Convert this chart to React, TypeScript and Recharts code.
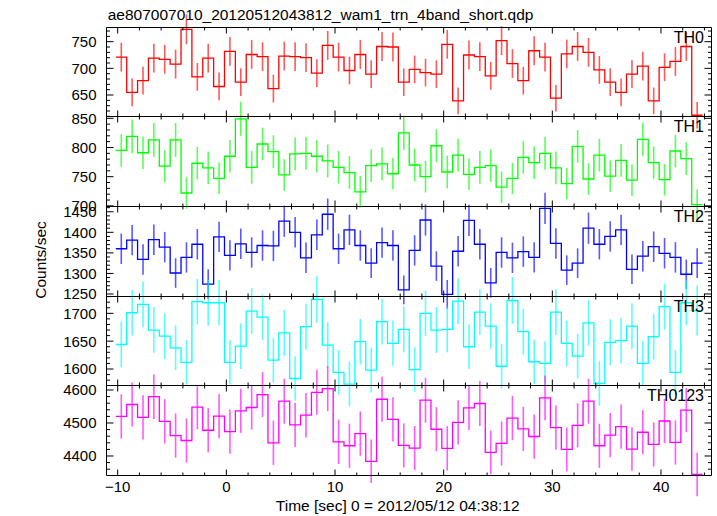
import React from 'react';
import { ComposedChart, Line, Scatter, ErrorBar, XAxis, YAxis } from 'recharts';

// ---- data ----
const TIME = [
  -9.67, -8.67, -7.67, -6.67, -5.67, -4.67, -3.67, -2.67, -1.67, -0.67,
  0.33, 1.33, 2.33, 3.33, 4.33, 5.33, 6.33, 7.33, 8.33, 9.33,
  10.33, 11.33, 12.33, 13.33, 14.33, 15.33, 16.33, 17.33, 18.33, 19.33,
  20.33, 21.33, 22.33, 23.33, 24.33, 25.33, 26.33, 27.33, 28.33, 29.33,
  30.33, 31.33, 32.33, 33.33, 34.33, 35.33, 36.33, 37.33, 38.33, 39.33,
  40.33, 41.33, 42.33, 43.33,
];
const BIN_HALF = 0.5;

const TH0 = [
  721, 655, 677, 719, 717, 708, 773, 684, 719, 666,
  732, 674, 726, 722, 662, 723, 722, 720, 691, 743,
  721, 696, 726, 689, 741, 740, 674, 698, 692, 689,
  745, 639, 725, 722, 686, 752, 709, 677, 733, 721,
  644, 727, 741, 730, 697, 674, 655, 689, 704, 639,
  702, 713, 741, 612,
];
const TH0_ERR = [
  27, 26, 26, 27, 27, 27, 28, 26, 27, 26,
  27, 26, 27, 27, 26, 27, 27, 27, 26, 27,
  27, 26, 27, 26, 27, 27, 26, 26, 26, 26,
  27, 25, 27, 27, 26, 27, 27, 26, 27, 27,
  25, 27, 27, 27, 26, 26, 26, 26, 27, 25,
  26, 27, 27, 25,
];
const TH1 = [
  795, 819, 791, 813, 768, 813, 722, 773, 765, 747,
  785, 849, 766, 806, 793, 753, 789, 790, 785, 777,
  766, 757, 724, 769, 772, 755, 825, 770, 750, 803,
  758, 787, 754, 766, 769, 732, 747, 783, 774, 790,
  765, 738, 802, 746, 787, 751, 778, 744, 814, 774,
  745, 794, 781, 702,
];
const TH1_ERR = [
  28, 29, 28, 29, 28, 29, 27, 28, 28, 27,
  28, 29, 28, 28, 28, 27, 28, 28, 28, 28,
  28, 28, 27, 28, 28, 27, 29, 28, 27, 28,
  28, 28, 27, 28, 28, 27, 27, 28, 28, 28,
  28, 27, 28, 27, 28, 27, 28, 27, 29, 28,
  27, 28, 28, 26,
];
const TH2 = [
  1360, 1381, 1334, 1382, 1364, 1301, 1339, 1371, 1274, 1389,
  1344, 1372, 1351, 1368, 1367, 1427, 1400, 1338, 1394, 1444,
  1360, 1406, 1368, 1325, 1375, 1368, 1260, 1356, 1430, 1318,
  1249, 1354, 1429, 1371, 1277, 1351, 1338, 1353, 1339, 1458,
  1373, 1308, 1325, 1410, 1371, 1390, 1406, 1310, 1342, 1365,
  1349, 1339, 1298, 1325,
];
const TH2_ERR = [
  37, 37, 37, 37, 37, 36, 37, 37, 36, 37,
  37, 37, 37, 37, 37, 38, 37, 37, 37, 38,
  37, 37, 37, 36, 37, 37, 35, 37, 38, 36,
  35, 37, 38, 37, 36, 37, 37, 37, 37, 38,
  37, 36, 36, 38, 37, 37, 37, 36, 37, 37,
  37, 37, 36, 36,
];
const TH3 = [
  1644, 1701, 1716, 1670, 1659, 1638, 1612, 1721, 1719, 1719,
  1612, 1641, 1704, 1693, 1616, 1665, 1583, 1676, 1725, 1643,
  1594, 1573, 1649, 1598, 1685, 1646, 1671, 1599, 1700, 1670,
  1671, 1722, 1640, 1702, 1677, 1605, 1723, 1667, 1613, 1610,
  1702, 1646, 1623, 1683, 1574, 1648, 1651, 1677, 1610, 1658,
  1712, 1594, 1719, 1705,
];
const TH3_ERR = [
  41, 41, 41, 41, 41, 40, 40, 41, 41, 41,
  40, 41, 41, 41, 40, 41, 40, 41, 42, 41,
  40, 40, 41, 40, 41, 41, 41, 40, 41, 41,
  41, 41, 40, 41, 41, 40, 42, 41, 40, 40,
  41, 41, 40, 41, 40, 41, 41, 41, 40, 41,
  41, 40, 41, 45,
];
const TH0123 = [
  4520, 4556, 4517, 4580, 4505, 4462, 4447, 4548, 4478, 4521,
  4474, 4537, 4547, 4586, 4440, 4566, 4494, 4524, 4593, 4604,
  4443, 4431, 4468, 4384, 4572, 4511, 4432, 4424, 4569, 4481,
  4423, 4502, 4546, 4559, 4411, 4438, 4515, 4482, 4459, 4576,
  4486, 4420, 4493, 4566, 4431, 4463, 4489, 4421, 4472, 4435,
  4506, 4441, 4539, 4344,
];
const TH0123_ERR = [
  67, 67, 67, 68, 67, 67, 67, 67, 67, 67,
  67, 67, 67, 68, 67, 68, 67, 67, 68, 68,
  67, 67, 67, 66, 68, 67, 67, 67, 68, 67,
  67, 67, 67, 68, 66, 67, 67, 67, 67, 68,
  67, 66, 67, 68, 67, 67, 67, 66, 67, 67,
  67, 67, 67, 66,
];

const X_MAJOR = [-10, 0, 10, 20, 30, 40];
const TH0_MAJOR = [650, 700, 750];
const TH1_MAJOR = [700, 750, 800, 850];
const TH2_MAJOR = [1250, 1300, 1350, 1400, 1450];
const TH3_MAJOR = [1600, 1650, 1700];
const TH0123_MAJOR = [4400, 4500, 4600];

const TITLE = 'ae807007010_20120512043812_wam1_trn_4band_short.qdp';
const X_LABEL = 'Time [sec] 0 = 2012/05/12 04:38:12';
const Y_LABEL = 'Counts/sec';

// ---- layout ----
const W = 717;
const H = 516;
const PLOT_LEFT = 106.5;
const PLOT_RIGHT = 711.5;
const EDGES = [27.5, 116.5, 206.5, 296.5, 385.5, 475.5];
const X_DOMAIN: [number, number] = [-11.03, 44.65];
const FONT = '"Liberation Sans", Arial, Helvetica, sans-serif';

const range = (a: number, b: number, s: number) => {
  const out: number[] = [];
  for (let v = a; v <= b + 1e-9; v += s) out.push(Math.round(v * 1000) / 1000);
  return out;
};
const X_TICKS = range(-10, 44, 2);

const fmt = (v: number) => (v < 0 ? '\u2212' + Math.abs(v) : String(v));

type PanelCfg = {
  name: string;
  values: number[];
  errs: number[];
  color: string;
  domain: [number, number];
  majors: number[];
  ticks: number[];
};

const PANELS: PanelCfg[] = [
  { name: 'TH0', values: TH0, errs: TH0_ERR, color: '#ff0000', domain: [609.7, 776.6], majors: TH0_MAJOR, ticks: range(610, 770, 10) },
  { name: 'TH1', values: TH1, errs: TH1_ERR, color: '#00ff00', domain: [698.9, 853.1], majors: TH1_MAJOR, ticks: range(700, 850, 10) },
  { name: 'TH2', values: TH2, errs: TH2_ERR, color: '#0000ff', domain: [1243.9, 1462.8], majors: TH2_MAJOR, ticks: range(1250, 1460, 10) },
  { name: 'TH3', values: TH3, errs: TH3_ERR, color: '#00ffff', domain: [1570.4, 1730.2], majors: TH3_MAJOR, ticks: range(1580, 1730, 10) },
  { name: 'TH0123', values: TH0123, errs: TH0123_ERR, color: '#ff00ff', domain: [4340.9, 4613.6], majors: TH0123_MAJOR, ticks: range(4360, 4600, 20) },
];

const makeXTick = (side: 'top' | 'bottom', showLabel: boolean) => (props: any) => {
  const { x, y, payload } = props;
  const v = payload.value;
  const major = X_MAJOR.includes(v);
  const len = major ? 6 : 3;
  const dir = side === 'bottom' ? -1 : 1;
  return (
    <g>
      <line x1={x} x2={x} y1={y} y2={y + dir * len} stroke="#000" strokeWidth={1} />
      {showLabel && major ? (
        <text x={x} y={y + 16.5} textAnchor="middle" fontSize={15} fontFamily={FONT} fill="#000">
          {fmt(v)}
        </text>
      ) : null}
    </g>
  );
};

const makeYTick = (side: 'left' | 'right', majors: number[]) => (props: any) => {
  const { x, y, payload } = props;
  const v = payload.value;
  const major = majors.includes(v);
  const len = major ? 7 : 3.5;
  const dir = side === 'left' ? 1 : -1;
  return (
    <g>
      <line x1={x} x2={x + dir * len} y1={y} y2={y} stroke="#000" strokeWidth={1} />
      {side === 'left' && major ? (
        <text x={x - 10} y={y + 5.4} textAnchor="end" fontSize={15} fontFamily={FONT} fill="#000">
          {fmt(v)}
        </text>
      ) : null}
    </g>
  );
};

const EmptyShape = () => <g />;

function Panel({ p, index }: { p: PanelCfg; index: number }) {
  const last = index === PANELS.length - 1;
  const n = TIME.length;
  const lineData = [
    { t: TIME[0] - BIN_HALF, v: p.values[0] },
    ...TIME.map((t, i) => ({ t, v: p.values[i] })),
    { t: TIME[n - 1] + BIN_HALF, v: p.values[n - 1] },
  ];
  const pts = TIME.map((t, i) => ({ t, v: p.values[i], e: p.errs[i] }));
  const top = EDGES[index];
  const bottom = EDGES[index + 1];
  return (
    <div style={{ position: 'absolute', left: 0, top: 0 }}>
      <ComposedChart
        width={W}
        height={H}
        margin={{ top, bottom: H - bottom, left: PLOT_LEFT, right: W - PLOT_RIGHT }}
      >
        <XAxis
          xAxisId="b"
          orientation="bottom"
          type="number"
          dataKey="t"
          domain={X_DOMAIN}
          allowDataOverflow
          ticks={X_TICKS}
          interval={0}
          mirror
          tickSize={0}
          tickMargin={0}
          tickLine={false}
          axisLine={{ stroke: '#000', strokeWidth: 1 }}
          tick={makeXTick('bottom', last)}
        />
        <XAxis
          xAxisId="t"
          orientation="top"
          type="number"
          dataKey="t"
          domain={X_DOMAIN}
          allowDataOverflow
          ticks={X_TICKS}
          interval={0}
          mirror
          tickSize={0}
          tickMargin={0}
          tickLine={false}
          axisLine={{ stroke: '#000', strokeWidth: 1 }}
          tick={makeXTick('top', false)}
        />
        <YAxis
          yAxisId="l"
          orientation="left"
          type="number"
          dataKey="v"
          domain={p.domain}
          allowDataOverflow
          ticks={p.ticks}
          interval={0}
          mirror
          tickSize={0}
          tickMargin={0}
          tickLine={false}
          axisLine={{ stroke: '#000', strokeWidth: 1 }}
          tick={makeYTick('left', p.majors)}
        />
        <YAxis
          yAxisId="r"
          orientation="right"
          type="number"
          dataKey="v"
          domain={p.domain}
          allowDataOverflow
          ticks={p.ticks}
          interval={0}
          mirror
          tickSize={0}
          tickMargin={0}
          tickLine={false}
          axisLine={{ stroke: '#000', strokeWidth: 1 }}
          tick={makeYTick('right', p.majors)}
        />
        <Scatter
          xAxisId="t"
          yAxisId="r"
          data={pts}
          dataKey="v"
          shape={EmptyShape}
          isAnimationActive={false}
        >
          <ErrorBar
            dataKey="e"
            direction="y"
            width={0}
            stroke={p.color}
            strokeWidth={1.6}
            strokeOpacity={0.65}
            isAnimationActive={false}
          />
        </Scatter>
        <Line
          xAxisId="b"
          yAxisId="l"
          data={lineData}
          dataKey="v"
          type="step"
          stroke={p.color}
          strokeWidth={1.3}
          dot={false}
          activeDot={false}
          isAnimationActive={false}
        />
      </ComposedChart>
    </div>
  );
}

export default function App() {
  return (
    <div style={{ position: 'fixed', left: 0, top: 0, width: W, height: H, background: '#fff', overflow: 'hidden' }}>
      {PANELS.map((p, i) => (
        <Panel key={p.name} p={p} index={i} />
      ))}
      <svg
        width={W}
        height={H}
        style={{ position: 'absolute', left: 0, top: 0, pointerEvents: 'none' }}
      >
        <text x={107.7} y={19.5} fontSize={15.5} fontFamily={FONT} fill="#000">
          {TITLE}
        </text>
        <text
          x={0}
          y={0}
          transform="translate(46,260) rotate(-90)"
          textAnchor="middle"
          fontSize={15.5}
          fontFamily={FONT}
          fill="#000"
        >
          {Y_LABEL}
        </text>
        <text x={397.7} y={511} textAnchor="middle" fontSize={15.5} fontFamily={FONT} fill="#000">
          {X_LABEL}
        </text>
        {PANELS.map((p, i) => (
          <text
            key={p.name}
            x={704}
            y={EDGES[i] + 15.8}
            textAnchor="end"
            fontSize={16}
            fontFamily={FONT}
            fill="#000"
          >
            {p.name}
          </text>
        ))}
      </svg>
    </div>
  );
}
